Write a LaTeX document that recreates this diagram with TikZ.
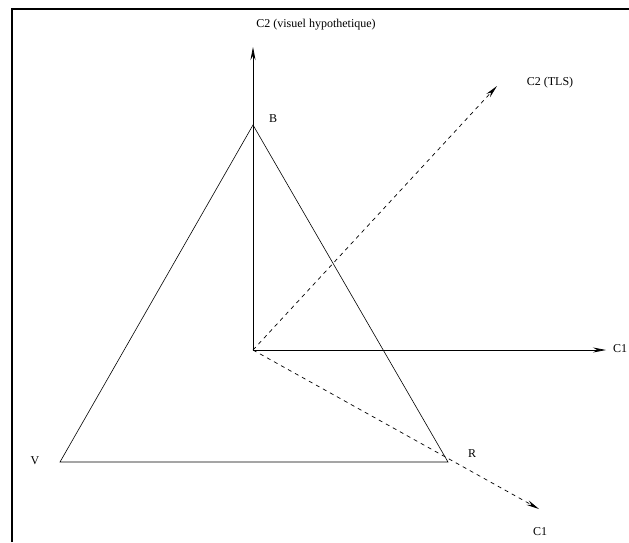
\documentclass[tikz,border=0pt]{standalone}
\usepackage{fontspec}
\setmainfont{Liberation Serif}
\usetikzlibrary{arrows.meta}
\begin{document}
\begin{tikzpicture}[x=1pt,y=-1pt,
  axis/.style={line width=0.7pt,-{Stealth[length=13pt,width=5pt]}},
  daxis/.style={line width=0.7pt,dash pattern=on 4pt off 4pt,-{Stealth[length=13pt,width=5pt]}},
  edge/.style={line width=0.6pt},
  lab/.style={font=\fontsize{12}{14}\selectfont,inner sep=0pt},
  frame/.style={line width=2.6pt}]
\useasboundingbox (0,0) rectangle (629,542);
\coordinate (FL) at (12,542);
\coordinate (FC) at (12,9);
\coordinate (FR) at (629,9);
\draw[frame] (FL) -- (FC) -- (FR);
\coordinate (O) at (253,350);
\coordinate (B) at (253,125);
\coordinate (V) at (60,462);
\coordinate (R) at (448,462);
\coordinate (C2v) at (253,47);
\coordinate (C1h) at (606,350);
\coordinate (C2t) at (497,86);
\coordinate (C1d) at (539,509);
\draw[edge] (V) -- (B) -- (R) -- cycle;
\draw[axis] (O) -- (C2v);
\draw[axis] (O) -- (C1h);
\draw[daxis] (O) -- (C2t);
\draw[daxis] (O) -- (C1d);
\node[lab] (lc2v) at (316,25) {C2 (visuel hypothetique)};
\node[lab] (lb) at (273,119) {B};
\node[lab] (lv) at (35,461) {V};
\node[lab] (lr) at (472,454) {R};
\node[lab] (lc1h) at (620,349) {C1};
\node[lab] (lc2t) at (550,83) {C2 (TLS)};
\node[lab] (lc1d) at (540,532) {C1};
\end{tikzpicture}
\end{document}
